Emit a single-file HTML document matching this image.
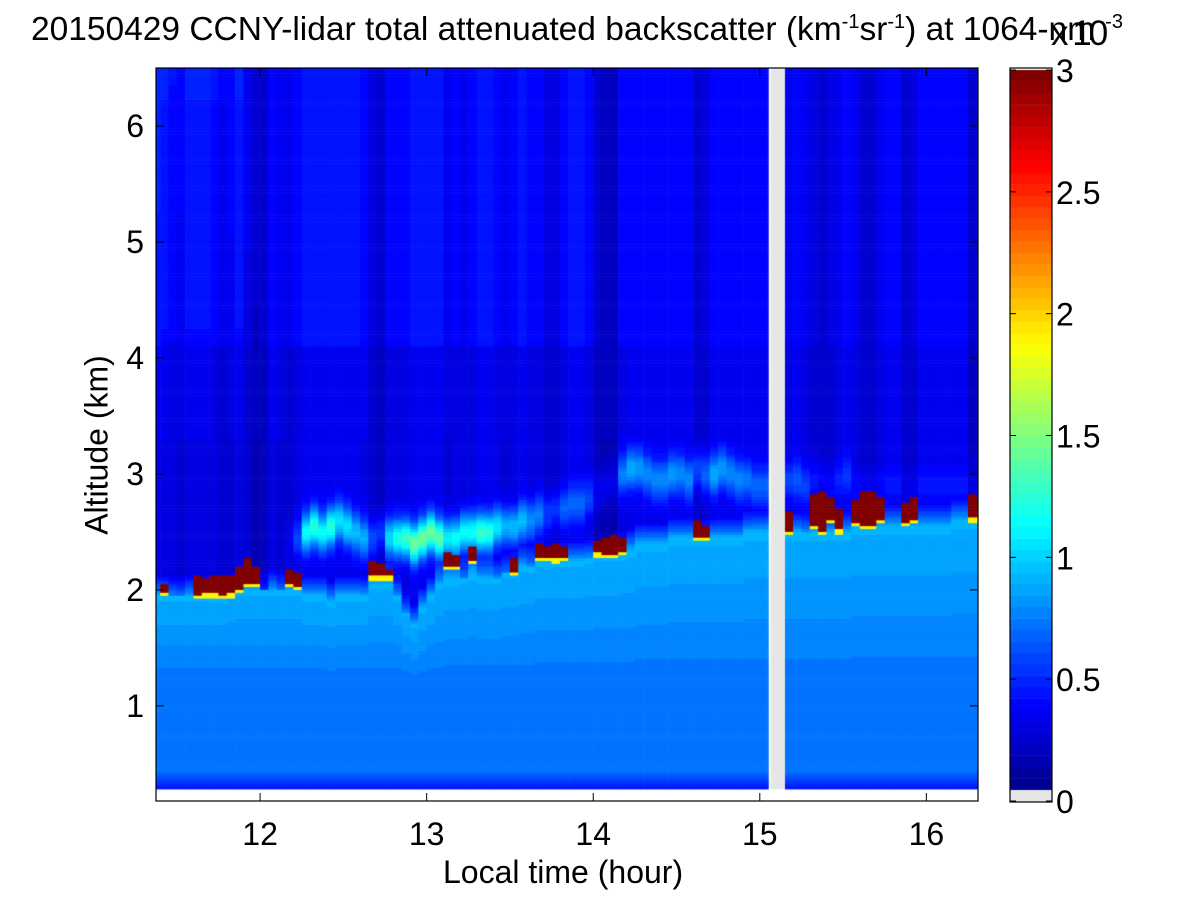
<!DOCTYPE html>
<html><head><meta charset="utf-8">
<style>
html,body{margin:0;padding:0;background:#fff;}
#wrap{position:relative;width:1200px;height:900px;font-family:"Liberation Sans",Arial,sans-serif;color:#000;}
.t{position:absolute;white-space:nowrap;}
canvas{position:absolute;}
</style></head>
<body>
<div id="wrap">
<div class="t" style="left:31px;top:11px;font-size:33.5px;">20150429 CCNY-lidar total attenuated backscatter (km<sup style="font-size:20px">-1</sup>sr<sup style="font-size:20px">-1</sup>) at 1064-nm</div>
<canvas id="hm" width="822" height="733" style="left:156px;top:68px;"></canvas>
<canvas id="cb" width="42" height="734" style="left:1010px;top:68px;"></canvas>
<svg id="ax" width="1200" height="900" style="position:absolute;left:0;top:0"></svg>
<div class="t" style="left:1051px;top:14px;font-size:35px;letter-spacing:-3px;">x 10<sup style="font-size:20px;position:relative;top:-4px;letter-spacing:0">-3</sup></div>
<div class="t" style="left:443px;top:854px;font-size:32px;">Local time (hour)</div>
<div class="t" style="left:97px;top:445px;font-size:32px;transform:translate(-50%,-50%) rotate(-90deg);">Altitude (km)</div>
</div>
<script>
// ---- data (per 0.05 h column starting at 11.35 h) ----
const tStart = 11.35, tStep = 0.05;
const gapCols = [74, 75];
const cloudBase = [0,1.98,0,0,0,1.95,1.97,1.97,1.95,1.97, 2.0,2.05,2.05,0,0,0,2.05,2.03,0,0, 0,0,0,0,0,0,2.12,2.12,2.12,0, 0,0,0,0,0,2.2,2.2,0,2.25,0, 0,0,0,2.15,0,0,2.28,2.28,2.27,2.28, 0,0,0,2.32,2.3,2.3,2.33,0,0,0, 0,0,0,0,0,2.45,2.45,0,0,0, 0,0,0,0,0,0,2.5,0,0,2.55, 2.5,2.6,2.52,0,2.58,2.55,2.55,2.6,0,0, 2.58,2.6,0,0,0,0,0,0,2.62,2.62];
const cloudTop  = [0,2.05,0,0,0,2.12,2.1,2.12,2.13,2.12, 2.2,2.28,2.2,0,0,0,2.17,2.15,0,0, 0,0,0,0,0,0,2.25,2.22,2.17,0, 0,0,0,0,0,2.32,2.3,0,2.38,0, 0,0,0,2.28,0,0,2.4,2.38,2.4,2.38, 0,0,0,2.42,2.45,2.47,2.45,0,0,0, 0,0,0,0,0,2.6,2.55,0,0,0, 0,0,0,0,0,0,2.67,0,0,2.82, 2.85,2.8,2.7,0,2.78,2.85,2.85,2.8,0,0, 2.75,2.8,0,0,0,0,0,0,2.82,2.8];
const pblTop = [1.95,1.95,1.95,1.95,1.95,1.95,1.95,1.95,1.95,1.97, 2.0,2.0,2.0,2.0,2.0,2.0,2.0,2.0,1.95,1.95, 1.95,1.9,1.95,1.95,1.95,1.95,2.05,2.05,2.05,1.95, 1.8,1.7,1.85,1.95,2.05,2.1,2.1,2.1,2.15,2.1, 2.1,2.1,2.15,2.15,2.2,2.2,2.25,2.25,2.25,2.25, 2.25,2.25,2.28,2.3,2.3,2.3,2.32,2.35,2.4,2.4, 2.4,2.4,2.45,2.45,2.45,2.45,2.45,2.45,2.45,2.45, 2.45,2.5,2.5,2.5,0,0,2.5,2.5,2.5,2.5, 2.5,2.5,2.5,2.5,2.55,2.55,2.55,2.55,2.55,2.55, 2.55,2.55,2.55,2.55,2.55,2.55,2.6,2.6,2.6,2.6];
const layerAlt = [2.4,2.4,2.4,2.4,2.4,2.4,2.4,2.4,2.4,2.4, 2.4,2.4,2.4,2.4,2.4,2.4,2.4,2.45,2.5,2.55, 2.5,2.55,2.6,2.55,2.5,2.45,2.45,2.5,2.45,2.45, 2.45,2.4,2.45,2.5,2.45,2.45,2.45,2.5,2.5,2.5, 2.5,2.55,2.55,2.55,2.6,2.6,2.65,2.65,2.7,2.7, 2.75,2.75,2.8,2.85,2.9,2.95,3.0,3.05,3.05,3.0, 2.95,2.95,3.0,3.0,2.95,3.05,3.0,3.0,3.05,3.0, 2.95,2.95,2.9,2.9,0,0,2.95,2.95,2.9,2.95, 2.95,2.9,2.95,3.0,2.9,2.9,2.9,2.9,2.9,2.9, 2.9,2.9,2.9,2.9,2.9,2.9,2.9,2.9,2.9,2.9];
const layerAmp = [0,0,0,0,0,0,0,0,0,0, 0,0,0,0,0,0,0.1,0.3,0.8,0.9, 0.8,0.9,0.7,0.7,0.6,0.6,0.5,0.6,0.8,1.0, 1.1,1.1,1.1,1.1,1.05,1.0,1.0,1.0,0.95,0.95, 0.9,0.85,0.8,0.75,0.6,0.55,0.5,0.45,0.4,0.4, 0.35,0.35,0.3,0.3,0.3,0.3,0.5,0.55,0.5,0.45, 0.45,0.45,0.5,0.45,0.45,0.5,0.5,0.55,0.5,0.45, 0.45,0.4,0.35,0.35,0,0,0.35,0.3,0.3,0.25, 0.2,0.2,0.2,0.2,0.15,0.15,0.15,0.15,0.1,0.1, 0.1,0.1,0.1,0.1,0.1,0.1,0.1,0.1,0.1,0.1];
const dimFactor = [1,1,0.85,0.8,0.95,1,1,0.9,0.8,0.85, 1,0.75,0.55,0.6,0.95,0.8,0.8,0.95,1,1, 1,1,1,1,1,0.95,0.75,0.6,0.95,0.9, 0.9,1,1,1,1,0.85,0.9,0.85,0.95,1, 1,0.9,0.8,0.9,1,0.9,0.95,0.75,0.75,0.95, 1,1,0.9,0.6,0.55,0.55,0.95,1,1,1, 1,1,1,1,1,0.75,0.85,1,1,1, 1,1,1,1,1,1,0.9,1,0.9,0.8, 0.75,0.8,0.95,1,0.9,0.75,0.75,0.9,1,1, 0.75,0.8,1,1,1,1,1,1,0.7,0.75];
const yTicks = [1,2,3,4,5,6];
const xTicks = [12,13,14,15,16];
const cbTicks = [0,0.5,1,1.5,2,2.5,3];

// ---- axes ----
const x0=156,x1=978,tMin=11.375,tMax=16.31;
const yTop=68,yBot=801,zTop=6.5,zBot=0.18;
const xs=t=>x0+(t-tMin)/(tMax-tMin)*(x1-x0);
const ys=z=>yBot-(z-zBot)/(zTop-zBot)*(yBot-yTop);
const vmax=3;
function jet(v){
  let x=Math.max(0,Math.min(1,v/vmax));
  x=Math.floor(x*63.999)/63;
  const c=a=>Math.round(255*Math.max(0,Math.min(1,a)));
  return `rgb(${c(1.5-Math.abs(4*x-3))},${c(1.5-Math.abs(4*x-2))},${c(1.5-Math.abs(4*x-1))})`;
}
function value(i,z,t){
  const pb=pblTop[i];
  let free;
  if(z>4.1) free=0.44+(t<12.0?0.06*(z-4.1)/2.4:0)+(t>14.2?-0.05:0);
  else if(z>3.3) free=0.36+(t>14.2?-0.03:0);
  else free=0.34;
  let v;
  if(z<pb){
    v=0.72+0.18*Math.max(0,(z-1.2)/(pb-1.2));
    if(z<0.45) v=0.4+(z-0.28)/0.17*0.32;
  } else if(z<pb+0.2){
    const f=(z-pb)/0.2; v=0.9*(1-f)+0.3*f;
  } else v=free;
  const a=layerAmp[i];
  if(a>0) v+=a*Math.exp(-Math.pow((z-layerAlt[i])/0.17,2));
  const cb=cloudBase[i],ct=cloudTop[i];
  if(cb>0){
    if(z>=cb&&z<=ct) return 3.2;
    if(z<cb&&z>cb-0.03) v=Math.max(v,1.9);
    if(z>ct) v*=dimFactor[i]*0.95;
  } else if(z>pb) v*=dimFactor[i];
  return v;
}
const hm=document.getElementById('hm').getContext('2d');
const zStep=0.025;
for(let i=0;i<cloudBase.length;i++){
  const ta=tStart+i*tStep, tb=ta+tStep;
  const px=xs(ta)-x0, pw=xs(tb)-xs(ta)+0.6;
  if(gapCols.includes(i)) continue;
  for(let z=0.28;z<6.5;z+=zStep){
    hm.fillStyle=jet(value(i,z+zStep/2,ta+tStep/2));
    hm.fillRect(px,ys(z+zStep)-yTop,pw,ys(z)-ys(z+zStep)+0.6);
  }
}
hm.fillStyle='#e6e6e6';hm.fillRect(xs(15.065)-x0,0,xs(15.15)-xs(15.065),ys(0.28)-yTop);
hm.fillStyle='#fff';hm.fillRect(0,ys(0.28)-yTop,822,20);

// colorbar
const cb=document.getElementById('cb').getContext('2d');
const cbY=v=>801-68-(v/3)*731;
for(let k=0;k<64;k++){
  const v=(k+0.5)/64*3;
  cb.fillStyle=jet(v);
  const ya=cbY(k/64*3), yb=cbY((k+1)/64*3);
  cb.fillRect(0,yb,42,ya-yb+0.5);
}
cb.fillStyle='#e6e6e6';cb.fillRect(0,722,42,12);

// axes SVG
const svg=document.getElementById('ax');
const NS='http://www.w3.org/2000/svg';
function mk(tag,attrs,name){const e=document.createElementNS(NS,tag);for(const k in attrs)e.setAttribute(k,attrs[k]);


svg.appendChild(e);return e;}
mk('rect',{x:x0,y:yTop,width:x1-x0,height:yBot-yTop,fill:'none',stroke:'#000','stroke-width':1.2},'plot-frame');
mk('rect',{x:1010,y:68,width:42,height:734,fill:'none',stroke:'#000','stroke-width':1.2},'colorbar-frame');
xTicks.forEach(t=>{
  const x=xs(t);
  mk('line',{x1:x,x2:x,y1:yBot,y2:yBot-8,stroke:'#000'},'x-tick');
  mk('line',{x1:x,x2:x,y1:yTop,y2:yTop+8,stroke:'#000'},'x-tick-top');
  const tx=mk('text',{x:x,y:yBot+44,'text-anchor':'middle','font-size':32,'font-family':'Liberation Sans, Arial, sans-serif'},'x-tick-label');tx.textContent=t;
});
yTicks.forEach(z=>{
  const y=ys(z);
  mk('line',{x1:x0,x2:x0+8,y1:y,y2:y,stroke:'#000'},'y-tick');
  mk('line',{x1:x1,x2:x1-8,y1:y,y2:y,stroke:'#000'},'y-tick-right');
  const tx=mk('text',{x:x0-12,y:y+11,'text-anchor':'end','font-size':32,'font-family':'Liberation Sans, Arial, sans-serif'},'y-tick-label');tx.textContent=z;
});
cbTicks.forEach(v=>{
  const y=68+cbY(v);
  mk('line',{x1:1010,x2:1016,y1:y,y2:y,stroke:'#000'},'colorbar-tick');
  mk('line',{x1:1052,x2:1046,y1:y,y2:y,stroke:'#000'},'colorbar-tick-right');
  const tx=mk('text',{x:1056,y:y+12,'font-size':32,'font-family':'Liberation Sans, Arial, sans-serif'},'colorbar-tick-label');tx.textContent=v;
});
</script>
</body></html>
